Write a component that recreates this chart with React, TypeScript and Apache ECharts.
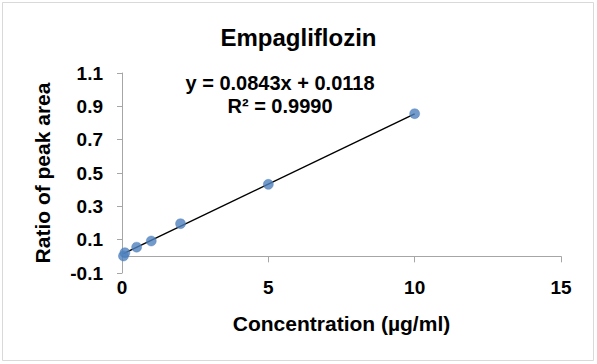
import React, { useEffect, useRef } from "react";
import * as echarts from "echarts";

const titleText = "Empagliflozin";
const xAxisTitle = "Concentration (µg/ml)";
const yAxisTitle = "Ratio of peak area";
const concentrations = [0.05, 0.1, 0.5, 1, 2, 5, 10];
const peakRatios = [0.002, 0.022, 0.055, 0.092, 0.196, 0.432, 0.856];
const slope = 0.0843;
const intercept = 0.0118;
const equationLines = ["y = 0.0843x + 0.0118", "R² = 0.9990"];
const xTicks = [0, 5, 10, 15];
const yTicks = [-0.1, 0.1, 0.3, 0.5, 0.7, 0.9, 1.1];

const FONT = "'Liberation Sans', Arial, sans-serif";

export default function App() {
  const ref = useRef<HTMLDivElement>(null);
  useEffect(() => {
    if (!ref.current) return;
    const chart = echarts.init(ref.current, null, { renderer: "svg" });
    const points = concentrations.map((x, i) => [x, peakRatios[i]]);
    const xMin = Math.min(...concentrations);
    const xMax = Math.max(...concentrations);
    const trend = [
      [xMin, slope * xMin + intercept],
      [xMax, slope * xMax + intercept],
    ];
    const axisColor = "#a6a6a6";
    chart.setOption({
      animation: false,
      backgroundColor: "#ffffff",
      title: {
        text: titleText,
        left: "center",
        top: 20,
        textStyle: { fontFamily: FONT, fontWeight: "bold", fontSize: 24, color: "#000" },
      },
      grid: { left: 122, right: 36, top: 73, bottom: 91, containLabel: false },
      xAxis: [
        {
          type: "value",
          position: "bottom",
          min: xTicks[0],
          max: xTicks[xTicks.length - 1],
          interval: 5,
          axisLine: { show: false, onZero: false },
          axisTick: { show: false },
          splitLine: { show: false },
          axisLabel: {
            margin: 5,
            fontFamily: FONT,
            fontWeight: "bold",
            fontSize: 19,
            color: "#000",
          },
          name: xAxisTitle,
          nameLocation: "middle",
          nameGap: 40,
          nameTextStyle: { fontFamily: FONT, fontWeight: "bold", fontSize: 21, color: "#000" },
        },
        {
          type: "value",
          position: "bottom",
          min: xTicks[0],
          max: xTicks[xTicks.length - 1],
          interval: 5,
          axisLine: { show: true, onZero: true, lineStyle: { color: axisColor, width: 1 } },
          axisTick: { show: true, length: 6, lineStyle: { color: axisColor } },
          splitLine: { show: false },
          axisLabel: { show: false },
        },
      ],
      yAxis: {
        type: "value",
        min: yTicks[0],
        max: yTicks[yTicks.length - 1],
        axisLine: { show: true, onZero: false, lineStyle: { color: axisColor, width: 1 } },
        axisTick: { show: true, length: 5, customValues: yTicks, lineStyle: { color: axisColor } },
        splitLine: { show: false },
        axisLabel: {
          customValues: yTicks,
          margin: 19,
          formatter: (v: number) => v.toFixed(1),
          fontFamily: FONT,
          fontWeight: "bold",
          fontSize: 19,
          color: "#000",
        },
        name: yAxisTitle,
        nameLocation: "middle",
        nameGap: 69,
        nameRotate: 90,
        nameTextStyle: { fontFamily: FONT, fontWeight: "bold", fontSize: 21, color: "#000" },
      },
      series: [
        {
          type: "line",
          data: trend,
          xAxisIndex: 0,
          symbol: "none",
          lineStyle: { color: "#000", width: 1.5 },
          z: 2,
        },
        {
          type: "scatter",
          data: points,
          xAxisIndex: 0,
          symbol: "circle",
          symbolSize: 10,
          itemStyle: { color: "#4f81bd", borderColor: "#4a7ebb", borderWidth: 0.5 },
          z: 3,
        },
      ],
      graphic: [
        {
          type: "rect",
          shape: { x: 2.5, y: 2.5, width: 591, height: 358 },
          style: { fill: "none", stroke: "#d9d9d9", lineWidth: 1 },
          silent: true,
        },
        {
          type: "text",
          x: 280,
          y: 82.5,
          style: {
            text: equationLines[0],
            align: "center",
            verticalAlign: "middle",
            fontFamily: FONT,
            fontWeight: "bold",
            fontSize: 20,
            fill: "#000",
          },
        },
        {
          type: "text",
          x: 280,
          y: 106,
          style: {
            text: equationLines[1],
            align: "center",
            verticalAlign: "middle",
            fontFamily: FONT,
            fontWeight: "bold",
            fontSize: 20,
            fill: "#000",
          },
        },
      ],
    });
    return () => chart.dispose();
  }, []);
  return (
    <div
      ref={ref}
      style={{ position: "fixed", left: 0, top: 0, width: 597, height: 364, background: "#fff" }}
    />
  );
}
